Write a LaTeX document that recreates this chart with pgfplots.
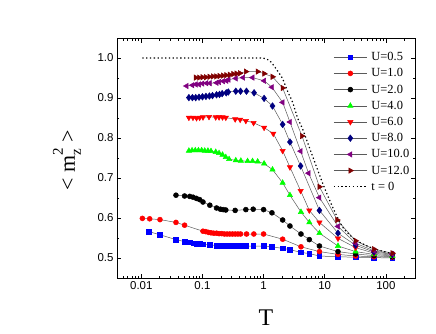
\documentclass[border=0pt]{standalone}
\usepackage{pgfplots}
\pgfplotsset{compat=1.18}
\usepackage{fontspec}
\setmainfont{Liberation Serif}
\newfontfamily\arial{Liberation Sans}

\definecolor{cblue}{RGB}{0,0,255}
\definecolor{cred}{RGB}{255,0,0}
\definecolor{cgreen}{RGB}{0,255,0}
\definecolor{cnavy}{RGB}{0,0,128}
\definecolor{cpurple}{RGB}{128,0,128}
\definecolor{cdred}{RGB}{128,0,0}
\definecolor{lgray}{RGB}{90,90,90}

\begin{document}
\begin{tikzpicture}
\path[use as bounding box] (-117bp,-56bp) rectangle (319bp,278bp);
\begin{axis}[
    at={(0,0)}, anchor=south west,
    scale only axis,
    width=298bp, height=240bp,
    xmode=log,
    xmin=0.004, xmax=300,
    ymin=0.45, ymax=1.05,
    axis line style={line width=0.8pt},
    tick style={black, line width=0.6pt},
    major tick length=4.5bp,
    minor tick length=2.5bp,
    xtick={0.01,0.1,1,10,100},
    xticklabels={0.01,0.1,1,10,100},
    minor xtick={0.004,0.005,0.006,0.007,0.008,0.009,
                 0.02,0.03,0.04,0.05,0.06,0.07,0.08,0.09,
                 0.2,0.3,0.4,0.5,0.6,0.7,0.8,0.9,
                 2,3,4,5,6,7,8,9,20,30,40,50,60,70,80,90,200,300},
    ytick={0.5,0.6,0.7,0.8,0.9,1.0},
    yticklabels={0.5,0.6,0.7,0.8,0.9,1.0},
    minor ytick={0.55,0.65,0.75,0.85,0.95},
    ticklabel style={font=\arial\fontsize{11.5}{12}\selectfont},
    xlabel={T},
    ylabel={< m\rlap{\raisebox{-0.28em}{\fontsize{15}{16}\selectfont z}}\raisebox{0.55em}{\fontsize{15}{16}\selectfont 2} >},
    every axis x label/.style={at={(axis description cs:0.5,-0.167)}, anchor=center, font=\fontsize{24}{26}\selectfont},
    every axis y label/.style={at={(axis description cs:-0.168,0.49)}, rotate=90, anchor=center, font=\fontsize{22}{24}\selectfont},
    legend cell align=left,
    legend style={at={(axis description cs:0.715,0.952)}, anchor=north west,
        draw=none, fill=none, font=\fontsize{12.5}{13}\selectfont,
        row sep=5.2bp, column sep=4bp,
        nodes={inner sep=0pt, text height=9bp, text depth=2bp}},
    legend image code/.code={\draw[mark repeat=2,mark phase=2,#1] plot coordinates {(0bp,0bp) (16.5bp,0bp) (33bp,0bp)};},
    every axis plot/.append style={line width=0.5pt, draw=lgray},
]

% U=0.5
\addplot[mark=square*, mark size=2.3pt, mark options={draw=cblue, fill=cblue}] coordinates {
(0.0133,0.566) (0.0202,0.558) (0.0369,0.546) (0.051,0.541) (0.062,0.539)
(0.0703,0.537) (0.0797,0.536) (0.090,0.535) (0.102,0.534) (0.132,0.533)
(0.170,0.531) (0.197,0.530) (0.218,0.530) (0.241,0.530) (0.302,0.530)
(0.361,0.530) (0.41,0.530) (0.513,0.530) (0.676,0.530) (1.0,0.530)
(1.37,0.528) (2.05,0.524) (2.70,0.521) (4.09,0.514) (5.6,0.511)
(8.2,0.505) (16.5,0.503) (32,0.502) (64,0.501) (128,0.500)
};
\addlegendentry{U=0.5}

% U=1.0
\addplot[mark=*, mark size=2.5pt, mark options={draw=cred, fill=cred}] coordinates {
(0.0104,0.599) (0.0137,0.598) (0.0202,0.596) (0.0369,0.589) (0.051,0.582)
(0.102,0.567) (0.113,0.566) (0.126,0.564) (0.138,0.563) (0.153,0.562)
(0.170,0.562) (0.187,0.561) (0.207,0.561) (0.229,0.560) (0.253,0.560)
(0.28,0.560) (0.31,0.560) (0.343,0.560) (0.38,0.560) (0.42,0.560)
(0.526,0.560) (0.693,0.560) (1.0,0.560) (2.05,0.547) (4.09,0.528)
(8.2,0.516) (16.5,0.509) (32,0.505) (64,0.503) (128,0.502)
};
\addlegendentry{U=1.0}

% U=2.0
\addplot[mark=*, mark size=2.5pt, mark options={draw=black, fill=black}] coordinates {
(0.0369,0.657) (0.051,0.655) (0.062,0.654) (0.0703,0.652) (0.0797,0.649)
(0.090,0.646) (0.102,0.640) (0.132,0.632) (0.170,0.625) (0.197,0.622)
(0.218,0.621) (0.241,0.620) (0.343,0.619) (0.513,0.621) (0.676,0.622)
(1.0,0.621) (1.37,0.613) (2.05,0.595) (2.70,0.580) (4.09,0.560)
(5.6,0.546) (8.2,0.530) (16.5,0.516) (32,0.510) (64,0.506) (128,0.503)
};
\addlegendentry{U=2.0}

% U=4.0
\addplot[mark=triangle*, mark size=3.1pt, mark options={draw=cgreen, fill=cgreen}] coordinates {
(0.060,0.768) (0.0676,0.769) (0.0763,0.769) (0.086,0.769) (0.097,0.769)
(0.109,0.768) (0.123,0.768) (0.138,0.767) (0.165,0.765) (0.187,0.762)
(0.213,0.758) (0.241,0.752) (0.273,0.747) (0.351,0.744) (0.425,0.743)
(0.547,0.742) (0.66,0.742) (0.80,0.741) (1.02,0.736) (1.40,0.721)
(2.05,0.688) (2.70,0.657) (4.09,0.615) (5.6,0.589) (8.2,0.562)
(16.5,0.530) (32,0.516) (64,0.509) (128,0.505)
};
\addlegendentry{U=4.0}

% U=6.0
\addplot[mark=triangle*, mark size=3.1pt, mark options={draw=cred, fill=cred, rotate=180}] coordinates {
(0.060,0.851) (0.070,0.851) (0.080,0.850) (0.090,0.851) (0.102,0.852)
(0.128,0.853) (0.165,0.852) (0.187,0.852) (0.213,0.852) (0.241,0.851)
(0.343,0.847) (0.414,0.846) (0.513,0.843) (0.686,0.838) (1.02,0.826)
(1.44,0.811) (2.05,0.768) (2.70,0.727) (4.04,0.668) (5.6,0.619)
(8.2,0.589) (16.5,0.549) (32,0.526) (64,0.512) (128,0.507)
};
\addlegendentry{U=6.0}

% U=8.0
\addplot[mark=diamond*, mark size=3.3pt, mark options={draw=cnavy, fill=cnavy}] coordinates {
(0.060,0.901) (0.0685,0.901) (0.0776,0.901) (0.088,0.902) (0.100,0.903)
(0.114,0.904) (0.130,0.905) (0.146,0.906) (0.170,0.908) (0.190,0.909)
(0.210,0.911) (0.245,0.913) (0.265,0.915) (0.351,0.917) (0.42,0.917)
(0.525,0.917) (0.70,0.913) (1.02,0.899) (1.40,0.880) (2.05,0.834)
(2.70,0.790) (4.04,0.730) (8.2,0.619) (16.5,0.562) (32,0.532)
(64,0.515) (128,0.509)
};
\addlegendentry{U=8.0}

% U=10.0
\addplot[mark=triangle*, mark size=3.1pt, mark options={draw=cpurple, fill=cpurple, rotate=90}] coordinates {
(0.055,0.930) (0.0685,0.932) (0.0776,0.934) (0.088,0.934) (0.100,0.936)
(0.116,0.937) (0.132,0.937) (0.170,0.938) (0.187,0.940) (0.218,0.942)
(0.247,0.943) (0.267,0.946) (0.351,0.949) (0.463,0.951) (0.66,0.951)
(1.02,0.943) (1.37,0.927) (2.05,0.889) (2.70,0.840) (4.04,0.767)
(5.45,0.712) (8.2,0.651) (16.5,0.579) (32,0.537) (64,0.518) (128,0.510)
};
\addlegendentry{U=10.0}

% U=12.0
\addplot[mark=triangle*, mark size=3.1pt, mark options={draw=cdred, fill=cdred, rotate=-90}] coordinates {
(0.0776,0.951) (0.088,0.951) (0.100,0.952) (0.114,0.952) (0.130,0.953)
(0.148,0.954) (0.168,0.954) (0.190,0.955) (0.216,0.956) (0.245,0.957)
(0.28,0.958) (0.318,0.960) (0.36,0.961) (0.41,0.962) (0.513,0.966)
(0.80,0.966) (1.02,0.961) (1.40,0.953) (2.05,0.925) (4.25,0.805)
(8.2,0.678) (16,0.595) (32,0.543) (64,0.522) (128,0.512)
};
\addlegendentry{U=12.0}

% t = 0
\addplot[draw=black, line width=1.2pt, dash pattern=on 1.3pt off 2.5pt, smooth, tension=0.4] coordinates {
(0.0104,1.0) (0.1,1.0) (0.6,1.0) (0.9,1.0) (1.1,0.998) (1.32,0.99)
(1.69,0.968) (2.05,0.948) (2.5,0.915) (2.99,0.889) (3.6,0.850)
(4.36,0.822) (6.35,0.754) (9.25,0.687) (13.5,0.627) (19.7,0.577)
(32,0.545) (64,0.523) (128,0.511)
};
\addlegendentry{t = 0}

\end{axis}
\end{tikzpicture}
\end{document}
